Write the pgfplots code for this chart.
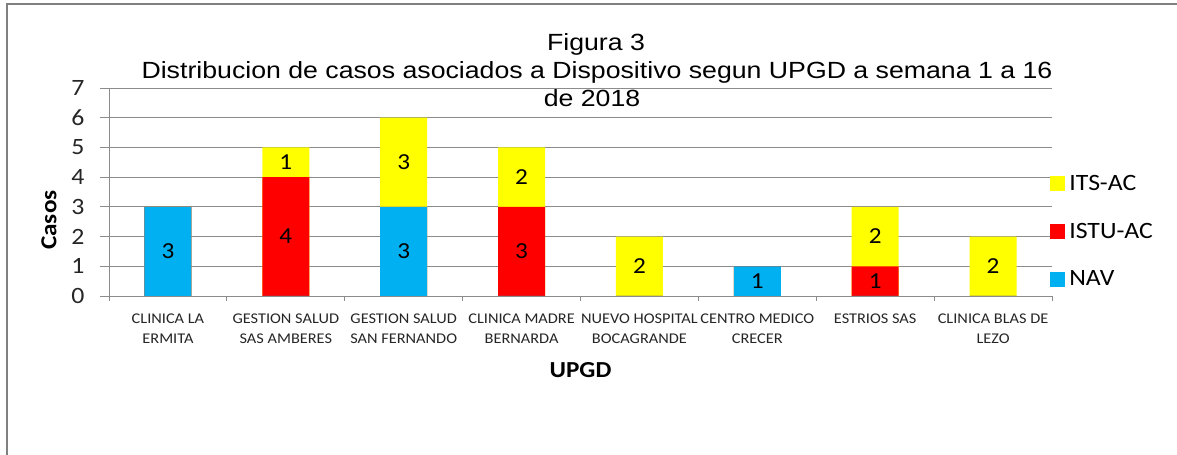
\documentclass[border=0pt]{standalone}
\usepackage{fontspec}
\usepackage{pgfplots}
\usepackage{pgfplotstable}
\pgfplotsset{compat=1.18}
\setmainfont{Carlito}[FakeStretch=1.1]
\newfontfamily\titlefont{Liberation Sans}[FakeStretch=1.14]
\definecolor{cNAV}{HTML}{00B0F0}
\definecolor{cISTU}{HTML}{FF0000}
\definecolor{cITS}{HTML}{FFFF00}
\definecolor{gridc}{HTML}{8C8C8C}
\pgfplotstableread{
x NAV ISTU ITS
0.5 3 0 0
1.5 0 4 1
2.5 3 0 3
3.5 0 3 2
4.5 0 0 2
5.5 1 0 0
6.5 0 1 2
7.5 0 0 2
}\data
\pgfplotsset{
  sq legend/.style={legend image code/.code={\fill[##1] (0bp,-7.5bp) rectangle (15bp,7.5bp);}},
  lbl/.style={draw=none, mark=none, forget plot,
    nodes near coords={\pgfmathfloatifflags{\pgfplotspointmeta}{0}{}{\pgfmathprintnumber{\pgfplotspointmeta}}},
    every node near coord/.append style={anchor=center, text=black, font=\fontsize{23}{23}\selectfont}},
}
\begin{document}
\begin{tikzpicture}[x=1bp,y=1bp]
\useasboundingbox (0,0) rectangle (1177,455);
\draw[color=gray, line width=1.5bp] (7,0) -- (7,451) -- (1177,451);
\node[font=\titlefont\fontsize{23.5}{28}\selectfont, anchor=base] at (596,404) {Figura 3};
\node[font=\titlefont\fontsize{23.5}{28}\selectfont, anchor=base] at (597,376) {Distribucion de casos asociados a Dispositivo segun UPGD a semana 1 a 16};
\node[font=\titlefont\fontsize{23.5}{28}\selectfont, anchor=base] at (592,348) {de 2018};
\begin{axis}[
  at={(109bp,159bp)}, anchor=south west,
  scale only axis, width=943bp, height=208bp,
  xmin=0, xmax=8, ymin=0, ymax=7,
  axis lines=left,
  axis line style={-, draw=gridc, line width=0.8bp},
  ytick={0,...,7},
  ymajorgrids,
  grid style={draw=gridc, line width=0.8bp},
  tick style={draw=gridc, line width=0.8bp},
  tick align=outside,
  major tick length=9bp,
  minor tick length=5bp,
  xtick={0.5,1.5,...,7.5},
  major x tick style={draw=none},
  minor xtick={0,...,8},
  xticklabels={{CLINICA LA\\ERMITA},{GESTION SALUD\\SAS AMBERES},{GESTION SALUD\\SAN FERNANDO},{CLINICA MADRE\\BERNARDA},{NUEVO HOSPITAL\\BOCAGRANDE},{CENTRO MEDICO\\CRECER},{ESTRIOS SAS},{CLINICA BLAS DE\\LEZO}},
  xticklabel style={align=center, font=\fontsize{14.9}{20}\selectfont, text=black!85, yshift=-5bp},
  yticklabel style={font=\fontsize{23.5}{23.5}\selectfont, text=black!85, xshift=-12bp},
  /pgf/number format/assume math mode=true,
  xlabel={UPGD},
  ylabel={Casos},
  xlabel style={at={(rel axis cs:0.5,-0.356)}, anchor=center, font=\bfseries\fontsize{23}{23}\selectfont},
  ylabel style={at={(rel axis cs:-0.0636,0.365)}, anchor=center, font=\bfseries\fontsize{23}{23}\selectfont},
  legend style={draw=none, fill=none, at={(rel axis cs:0.998,0.6)}, anchor=north west, font=\fontsize{23.5}{23.5}\selectfont, row sep=23bp, inner sep=0pt, nodes={inner sep=4bp}},
  legend cell align=left,
  clip=false,
]
\addplot[ybar, bar width=47bp, bar shift=0pt, fill=cITS, draw=none, sq legend] table[x=x, y expr=\thisrow{NAV}+\thisrow{ISTU}+\thisrow{ITS}] {\data};
\addlegendentry{ITS-AC}
\addplot[ybar, bar width=47bp, bar shift=0pt, fill=cISTU, draw=none, sq legend] table[x=x, y expr=\thisrow{NAV}+\thisrow{ISTU}] {\data};
\addlegendentry{ISTU-AC}
\addplot[ybar, bar width=47bp, bar shift=0pt, fill=cNAV, draw=none, sq legend] table[x=x, y=NAV] {\data};
\addlegendentry{NAV}
\addplot[lbl, point meta=\thisrow{NAV}] table[x=x, y expr=0.5*\thisrow{NAV}] {\data};
\addplot[lbl, point meta=\thisrow{ISTU}] table[x=x, y expr=\thisrow{NAV}+0.5*\thisrow{ISTU}] {\data};
\addplot[lbl, point meta=\thisrow{ITS}] table[x=x, y expr=\thisrow{NAV}+\thisrow{ISTU}+0.5*\thisrow{ITS}] {\data};
\end{axis}
\end{tikzpicture}
\end{document}
